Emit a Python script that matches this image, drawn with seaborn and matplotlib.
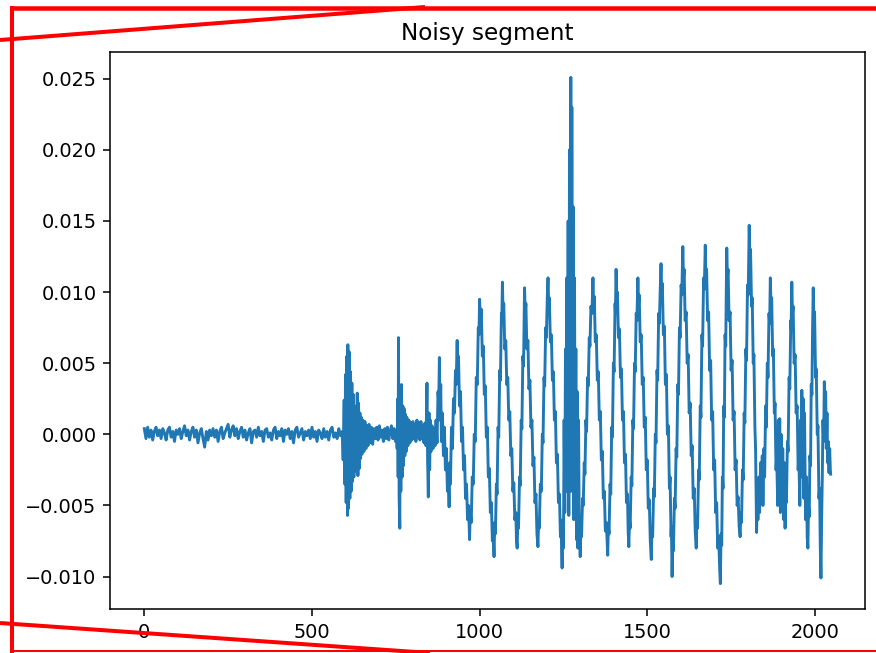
import numpy as np
import pandas as pd
import matplotlib
matplotlib.use("Agg")
import matplotlib.pyplot as plt
from matplotlib.lines import Line2D
import seaborn as sns

# ---------------- data (amplitudes in units of 1e-4) ----------------
title_text = "Noisy segment"

# quiet baseline, samples 0..585 every 5 samples
baseline_idx = list(range(0, 590, 5))
baseline_e4 = [
    4, -3, 5, -2, 3, -4, 2, 5, -1, 3,
    -3, 4, 1, -4, 3, 5, -2, 2, -5, 3,
    0, 4, -3, 2, 6, -1, 3, -4, 2, 5,
    -2, 3, -6, 1, 4, -3, -9, 2, -4, 3,
    -1, 4, -2, 3, -5, 2, 5, -3, 1, 4,
    7, -2, 3, 6, -1, 4, -3, 2, 5, -2,
    3, -4, 1, 4, -6, 2, 3, -2, 5, -1,
    2, -5, 3, 4, -2, 1, -4, 3, 5, -3,
    2, -1, 4, -5, 3, 0, 4, -3, 2, -6,
    3, 5, -2, 1, 4, -4, 2, -1, 3, -3,
    5, -2, 2, -5, 3, 1, -3, 4, -2, 2,
    -4, 3, 5, -2, 1, -3, 4, -1,
]

# first bursts (samples 590..1000)
burst_points = [
    (590, 2), (593, -18), (596, 24), (598, -35), (600, 42), (602, -48), (604, 55), (606, -57),
    (607, 63), (609, -52), (611, 58), (613, -45), (615, 44), (617, -40), (619, 36), (621, -33),
    (623, 28), (625, -30), (627, 20), (629, -22), (631, 18), (633, -26), (635, 29), (637, -29),
    (639, 22), (641, -24), (643, 15), (645, -17), (647, 12), (649, -14), (652, 10), (655, -12),
    (658, 9), (661, -10), (664, 6), (667, -8), (670, 7), (673, -6), (677, 5), (681, -7),
    (685, 4), (689, -3), (693, 5), (697, -4), (701, 6), (705, -2), (709, 3), (713, -5),
    (717, 4), (721, -3), (725, 5), (729, -4), (733, 2), (737, 6), (741, -3), (745, 4),
    (749, -5), (752, 3), (754, -10), (756, 25), (757, -30), (758, 68), (760, -45), (762, -66),
    (763, 30), (765, -40), (767, 35), (769, -30), (771, 20), (773, -22), (775, 18), (777, -15),
    (779, 14), (781, -12), (783, 12), (786, -8), (789, 10), (792, -6), (795, 8), (798, -4),
    (801, 9), (804, -3), (807, 7), (810, -5), (813, 10), (816, -2), (819, 8), (822, -4),
    (825, 9), (828, -3), (831, 6), (834, -6), (837, 8), (840, -8), (842, 20), (843, 36),
    (845, -20), (847, -44), (849, 15), (851, -25), (853, 10), (855, -12), (858, 6), (861, -10),
    (864, 4), (867, -8), (870, 10), (873, -6), (876, 30), (878, 20), (880, 54), (882, 10),
    (884, 35), (886, -5), (889, 15), (892, -15), (895, 5), (898, -25), (901, -10), (904, -40),
    (906, -25), (909, -51), (911, -20), (913, -35), (916, 5), (919, -10), (922, 25), (925, 15),
    (928, 45), (930, 35), (933, 66), (935, 40), (937, 55), (940, 20), (943, 30), (946, -5),
    (949, 5), (952, -25), (955, -15), (958, -45), (961, -35), (964, -60), (967, -50), (970, -74),
    (972, -55), (975, -62), (978, -30), (981, -35), (984, 0), (987, -5), (990, 40), (993, 35),
    (996, 75), (998, 70), (1000, 95),
]

# oscillating part (samples 1002..2047)
oscillation_points = [
    (1002, 80), (1005, 88), (1008, 55), (1011, 62), (1014, 28), (1017, 34), (1020, -2), (1023, 5),
    (1026, -30), (1029, -24), (1032, -55), (1035, -48), (1038, -75), (1040, -66), (1043, -86),
    (1045, -62), (1047, -70), (1050, -35), (1052, -42), (1055, 5), (1057, -2), (1060, 45), (1062, 38),
    (1065, 85), (1066, 78), (1068, 107),
    (1070, 85), (1072, 92), (1075, 60), (1078, 66), (1081, 35), (1084, 40), (1087, 10), (1090, 16),
    (1093, -15), (1096, -10), (1099, -40), (1102, -34), (1105, -60), (1108, -55), (1110, -75), (1112, -80),
    (1114, -60), (1116, -66), (1119, -30), (1121, -36), (1124, 10), (1126, 4), (1129, 55), (1131, 48),
    (1133, 88), (1134, 103),
    (1136, 85), (1138, 92), (1141, 60), (1144, 66), (1147, 32), (1150, 38), (1153, 5), (1156, 10),
    (1159, -22), (1162, -16), (1165, -48), (1168, -42), (1171, -70), (1174, -79),
    (1176, -60), (1178, -66), (1181, -35), (1184, -40), (1187, 0), (1189, -6), (1192, 40), (1194, 34),
    (1197, 75), (1199, 68), (1202, 98), (1204, 110),
    (1206, 90), (1208, 96), (1211, 65), (1214, 70), (1217, 38), (1220, 44), (1223, 10), (1226, 16),
    (1229, -20), (1232, -14), (1235, -48), (1238, -42), (1241, -72), (1243, -65), (1246, -94),
    (1248, -60), (1250, -80), (1252, 10), (1254, -55), (1256, 60), (1258, -40), (1260, 110), (1262, -30),
    (1264, 150), (1266, -57), (1268, 200), (1270, 20), (1272, 251), (1273, -40), (1275, 230), (1277, 0),
    (1279, 160), (1281, -60), (1283, 110), (1285, -40), (1287, 60), (1289, -74), (1291, 30), (1293, -80),
    (1295, 10), (1297, -60), (1300, -86),
    (1302, -65), (1304, -72), (1307, -45), (1309, -50), (1312, -20), (1314, -28), (1317, 10), (1319, 2),
    (1322, 40), (1324, 34), (1327, 68), (1329, 62), (1332, 90), (1335, 85), (1338, 110),
    (1340, 90), (1342, 97), (1345, 65), (1348, 70), (1351, 38), (1354, 44), (1357, 10), (1360, 16),
    (1363, -18), (1366, -12), (1369, -45), (1372, -40), (1375, -68), (1378, -62), (1382, -85),
    (1384, -64), (1386, -70), (1389, -35), (1391, -42), (1394, 5), (1396, -2), (1399, 50), (1401, 44),
    (1404, 92), (1405, 86), (1407, 116),
    (1409, 95), (1411, 100), (1414, 68), (1417, 74), (1420, 40), (1423, 46), (1426, 10), (1429, 16),
    (1432, -20), (1435, -14), (1438, -48), (1441, -42), (1443, -68), (1445, -79),
    (1447, -60), (1449, -66), (1452, -30), (1454, -36), (1457, 10), (1459, 4), (1462, 50), (1464, 44),
    (1467, 85), (1469, 80), (1472, 110),
    (1474, 92), (1476, 98), (1479, 65), (1482, 70), (1485, 35), (1488, 40), (1491, 5), (1494, 12),
    (1497, -25), (1500, -18), (1503, -52), (1506, -46), (1509, -75), (1512, -88),
    (1514, -66), (1516, -72), (1519, -38), (1521, -44), (1524, 0), (1526, -6), (1529, 45), (1531, 38),
    (1534, 85), (1536, 78), (1539, 105), (1541, 120),
    (1543, 100), (1545, 106), (1548, 70), (1551, 76), (1554, 35), (1557, 42), (1560, 0), (1563, 6),
    (1566, -38), (1568, -30), (1571, -72), (1572, -65), (1574, -100),
    (1576, -75), (1578, -82), (1581, -45), (1583, -52), (1586, -10), (1588, -16), (1591, 35), (1593, 28),
    (1596, 75), (1598, 68), (1601, 105), (1603, 98), (1606, 132),
    (1608, 110), (1610, 116), (1613, 80), (1616, 86), (1619, 50), (1622, 56), (1625, 15), (1628, 22),
    (1631, -15), (1634, -8), (1637, -45), (1640, -38), (1643, -68), (1646, -80),
    (1648, -60), (1650, -66), (1653, -25), (1655, -32), (1658, 20), (1660, 12), (1663, 70), (1665, 62),
    (1668, 110), (1670, 102), (1673, 133),
    (1675, 110), (1677, 116), (1680, 80), (1683, 86), (1686, 45), (1689, 52), (1692, 10), (1695, 16),
    (1698, -25), (1701, -18), (1704, -55), (1707, -48), (1710, -80), (1713, -72), (1716, -95), (1718, -105),
    (1720, -70), (1722, -78), (1724, -30), (1726, -38), (1728, 20), (1730, 12), (1732, 70), (1734, 62),
    (1736, 110), (1737, 131),
    (1739, 110), (1741, 116), (1744, 80), (1747, 86), (1750, 45), (1753, 52), (1756, 10), (1759, 16),
    (1762, -25), (1765, -18), (1768, -50), (1771, -44), (1774, -65), (1777, -72),
    (1779, -55), (1781, -62), (1784, -25), (1786, -32), (1789, 15), (1791, 8), (1794, 60), (1796, 52),
    (1799, 105), (1801, 98), (1804, 147),
    (1806, 125), (1808, 130), (1811, 90), (1813, 96), (1816, 50), (1818, 56), (1821, 5), (1823, -10),
    (1826, -69),
    (1828, -45), (1830, -60), (1833, -30), (1835, -55), (1838, -20), (1840, -45), (1843, -15), (1845, -50),
    (1848, -10), (1850, -30), (1853, 20), (1855, 5), (1858, 50), (1860, 40), (1863, 85), (1865, 78),
    (1867, 110),
    (1869, 90), (1871, 96), (1874, 55), (1876, 60), (1879, 15), (1881, 22), (1884, -25), (1886, -15),
    (1889, -50), (1891, 10), (1893, -40), (1895, 11), (1897, -55), (1899, 0), (1902, -45), (1904, -10),
    (1907, -60), (1909, -20), (1911, -66),
    (1913, -40), (1915, -48), (1918, -5), (1920, -12), (1923, 40), (1925, 32), (1928, 80), (1929, 74),
    (1931, 107),
    (1933, 85), (1935, 90), (1938, 50), (1941, 56), (1944, 15), (1947, 20), (1950, -25), (1952, -15),
    (1955, -50), (1957, 10), (1959, -30), (1961, 31), (1963, -20), (1965, 25), (1967, -45), (1969, 15),
    (1972, -60), (1975, -30), (1977, -72), (1979, -80),
    (1981, -50), (1983, -58), (1985, -15), (1987, -22), (1989, 35), (1991, 28), (1993, 75), (1995, 103),
    (1997, 80), (1999, 86), (2002, 40), (2004, 46), (2007, 0), (2009, 6), (2012, -45), (2014, -38),
    (2016, -80), (2018, -101),
    (2020, -60), (2022, -30), (2024, 10), (2026, -5), (2028, 37), (2030, 20), (2032, 30), (2034, -10),
    (2036, 15), (2038, -20), (2040, -5), (2042, -27), (2044, -10), (2046, -25), (2047, -28),
]

# ---------------- assemble ----------------
sample = list(baseline_idx) + [p[0] for p in burst_points] + [p[0] for p in oscillation_points]
amp_e4 = list(baseline_e4) + [p[1] for p in burst_points] + [p[1] for p in oscillation_points]
df = pd.DataFrame({"sample": sample, "value": np.array(amp_e4, dtype=float) * 1e-4})

# ---------------- figure ----------------
W, H, DPI = 876, 653, 100
S = 1.39  # scale relative to matplotlib defaults
fig = plt.figure(figsize=(W / DPI, H / DPI), dpi=DPI)
fig.patch.set_facecolor("white")
ax = fig.add_axes([110 / W, 1 - 609 / H, (865 - 110) / W, (609 - 52) / H])

sns.lineplot(data=df, x="sample", y="value", ax=ax, color="#1f77b4",
             linewidth=1.5 * S, estimator=None, sort=False)

ax.set_xlabel("")
ax.set_ylabel("")
ax.set_title(title_text, fontsize=12 * S, pad=6 * S)
ax.tick_params(labelsize=10 * S, length=3.5 * S, width=0.8 * S, pad=3.5 * S)
for sp in ax.spines.values():
    sp.set_linewidth(0.8 * S)
    sp.set_color("black")
ax.margins(x=0.05, y=0.05)

# red overlay frame seen on the reference image
def fx(x):
    return x / W

def fy(y):
    return 1 - y / H

red_lines = [
    ((12, 8), (876, 8), 4.5),
    ((12, 6), (12, 653), 4.0),
    ((0, 40), (425, 7), 4.0),
    ((12, 651), (876, 651), 2.0),
    ((0, 623), (430, 653), 4.0),
]
for (x0, y0), (x1, y1), w in red_lines:
    fig.add_artist(Line2D([fx(x0), fx(x1)], [fy(y0), fy(y1)], transform=fig.transFigure,
                          color="#ff0000", linewidth=w * 72 / DPI, solid_capstyle="butt"))

fig.savefig("out.png", dpi=DPI)
